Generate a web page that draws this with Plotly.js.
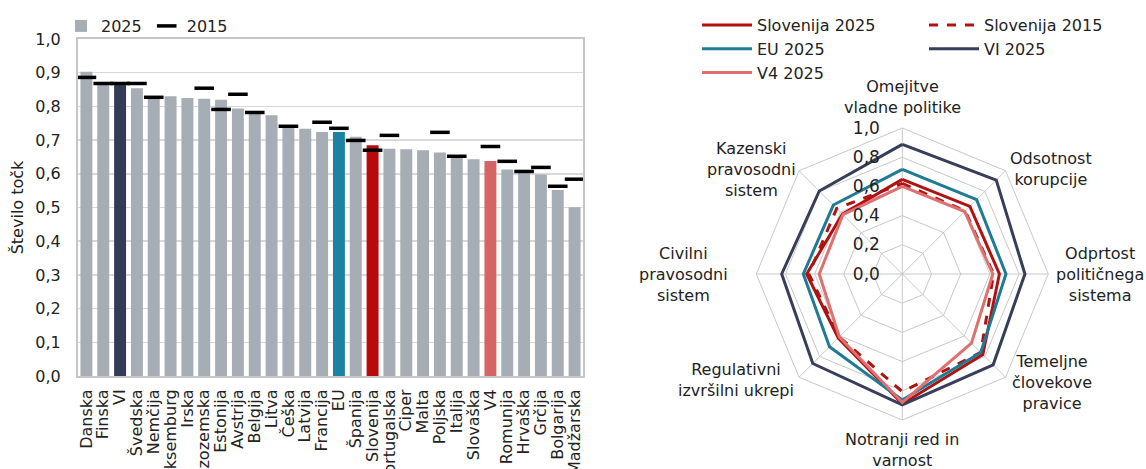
<!DOCTYPE html>
<html>
<head>
<meta charset="utf-8">
<script src="https://cdn.plot.ly/plotly-3.0.1.min.js"></script>
<style>html,body{margin:0;padding:0;background:#fff;}#chart{width:1146px;height:469px;}</style>
</head>
<body>
<div id="chart"></div>
<script>
// ---- Bar chart data ----
const countries = ['Danska','Finska','VI','Švedska','Nemčija','Luksemburg','Irska','Nizozemska','Estonija','Avstrija','Belgija','Litva','Češka','Latvija','Francija','EU','Španija','Slovenija','Portugalska','Ciper','Malta','Poljska','Italija','Slovaška','V4','Romunija','Hrvaška','Grčija','Bolgarija','Madžarska'];
const score2025 = [0.903,0.866,0.868,0.854,0.826,0.830,0.825,0.823,0.820,0.794,0.779,0.774,0.742,0.734,0.724,0.724,0.710,0.685,0.674,0.673,0.670,0.663,0.651,0.643,0.638,0.613,0.605,0.598,0.552,0.501];
const score2015 = [0.886,0.868,0.868,0.868,0.827,null,null,0.854,0.791,0.836,0.782,null,0.741,null,0.753,0.735,0.699,0.670,0.714,null,null,0.723,0.652,null,0.681,0.637,0.607,0.619,0.563,0.584];
const barLabels = ['2025','2015'];

// ---- Radar data ----
const factors = ['Omejitve<br>vladne politike','Odsotnost<br>korupcije','Odprtost<br>političnega<br>sistema','Temeljne<br>človekove<br>pravice','Notranji red in<br>varnost','Regulativni<br>izvršilni ukrepi','Civilni<br>pravosodni<br>sistem','Kazenski<br>pravosodni<br>sistem'];
const slo2025 = [0.648,0.655,0.665,0.78,0.89,0.62,0.655,0.58];
const slo2015 = [0.62,0.61,0.625,0.76,0.806,0.61,0.64,0.635];
const eu2025 = [0.717,0.72,0.71,0.76,0.863,0.705,0.678,0.668];
const vi2025 = [0.888,0.91,0.84,0.88,0.897,0.867,0.826,0.804];
const v42025 = [0.60,0.605,0.62,0.67,0.88,0.61,0.569,0.575];
const radarNames = ['Slovenija 2025','Slovenija 2015','EU 2025','VI 2025','V4 2025'];
const radialTicks = [0,0.2,0.4,0.6,0.8,1.0];

const GRAY='#a7adb4', NAVY='#333c56', TEAL='#1b82a1', RED='#b80a0a', SALMON='#d56464';
const FONT = 'DejaVu Sans, sans-serif';
const W = 1146, H = 469;

const barColors = countries.map(c => c==='VI'?NAVY : c==='EU'?TEAL : c==='Slovenija'?RED : c==='V4'?SALMON : GRAY);

const close = a => a.concat([a[0]]);
const thetaC = close(factors);

const traces = [
  {type:'bar', x:countries, y:score2025, name:barLabels[0], marker:{color:barColors}, legend:'legend3', xaxis:'x', yaxis:'y'},
  {type:'scatter', mode:'markers', x:countries, y:score2015, name:barLabels[1], marker:{symbol:'line-ew', size:14, color:'#000', line:{width:3.5, color:'#000'}}, legend:'legend3', xaxis:'x', yaxis:'y', cliponaxis:false},
  {type:'scatterpolar', r:close(slo2025), theta:thetaC, name:radarNames[0], mode:'lines', line:{color:'#b01212', width:3}, legend:'legend', subplot:'polar'},
  {type:'scatterpolar', r:close(slo2015), theta:thetaC, name:radarNames[1], mode:'lines', line:{color:'#b01212', width:3, dash:'dash'}, legend:'legend2', subplot:'polar'},
  {type:'scatterpolar', r:close(eu2025), theta:thetaC, name:radarNames[2], mode:'lines', line:{color:'#1f7b94', width:3}, legend:'legend', subplot:'polar'},
  {type:'scatterpolar', r:close(vi2025), theta:thetaC, name:radarNames[3], mode:'lines', line:{color:'#373e5a', width:3}, legend:'legend2', subplot:'polar'},
  {type:'scatterpolar', r:close(v42025), theta:thetaC, name:radarNames[4], mode:'lines', line:{color:'#df7070', width:3}, legend:'legend', subplot:'polar'}
];

// radar geometry (pixels)
const CX = 902.3, CY = 274, R = 146;

// category labels around the radar, centred text placed just outside the ring
const labelPads = [9, 3, 6, 7, 8, 4, 26, 2];
const annotations = factors.map((t, i) => {
  const ang = i * Math.PI / 4; // clockwise from top
  const sx = Math.sin(ang), sy = -Math.cos(ang);
  const rr = R + labelPads[i];
  const px = CX + sx * rr, py = CY + sy * rr;
  let xa = 'center', ya = 'middle';
  if (sx > 0.1) xa = 'left'; else if (sx < -0.1) xa = 'right';
  if (Math.abs(sx) < 0.1) ya = sy < 0 ? 'bottom' : 'top';
  return {text:t, xref:'paper', yref:'paper', x:px/W, y:1-py/H, xanchor:xa, yanchor:ya, align:'center', showarrow:false, font:{size:16, color:'#222', family:FONT}};
});

const layout = {
  width:W, height:H,
  margin:{l:0,r:0,t:0,b:0},
  paper_bgcolor:'#fff', plot_bgcolor:'#fff',
  separators:',.',
  font:{family:FONT, size:16, color:'#222'},
  bargap:0.29,
  xaxis:{domain:[78/W, 583/W], anchor:'y', range:[-0.5, countries.length-0.5], tickmode:'linear', dtick:1, tickangle:-90, showline:true, mirror:true, linecolor:'#c6c6c6', linewidth:2,
         ticks:'outside', ticklen:5, tickcolor:'rgba(0,0,0,0)', tickfont:{size:16, color:'#222'}, automargin:false, fixedrange:true},
  yaxis:{domain:[1-376/H, 1-39/H], anchor:'x', range:[0,1.0], dtick:0.1, tickformat:'.1f', showgrid:true, gridcolor:'#d9d9d9', gridwidth:1.5,
         showline:true, mirror:true, linecolor:'#c6c6c6', linewidth:2, zeroline:false, ticks:'outside', ticklen:12, tickcolor:'rgba(0,0,0,0)',
         tickfont:{size:16, color:'#222'}, title:{text:'Število točk', font:{size:16, color:'#222'}, standoff:8}, automargin:false, fixedrange:true},
  polar:{
    domain:{x:[(CX-R)/W,(CX+R)/W], y:[1-(CY+R)/H, 1-(CY-R)/H]},
    bgcolor:'#fff', gridshape:'linear',
    radialaxis:{range:[0,1.0], tickvals:radialTicks, tickformat:'.1f', angle:90, tickangle:90, side:'counterclockwise', showline:false,
                gridcolor:'#c8c8c8', gridwidth:1, ticks:'outside', ticklen:16, tickcolor:'rgba(0,0,0,0)', tickfont:{size:17, color:'#222'}, layer:'above traces'},
    angularaxis:{direction:'clockwise', rotation:90, gridcolor:'#c8c8c8', linecolor:'#c8c8c8', linewidth:1, showline:true, showticklabels:false, ticks:''}
  },
  annotations: annotations,
  legend:{x:697/W, y:1-8/H, xanchor:'left', yanchor:'top', orientation:'v', bgcolor:'rgba(0,0,0,0)', font:{size:16, color:'#222'}, itemwidth:50, tracegroupgap:0},
  legend2:{x:924/W, y:1-8/H, xanchor:'left', yanchor:'top', orientation:'v', bgcolor:'rgba(0,0,0,0)', font:{size:16, color:'#222'}, itemwidth:50},
  legend3:{x:61/W, y:1-9/H, xanchor:'left', yanchor:'top', orientation:'h', bgcolor:'rgba(0,0,0,0)', font:{size:16, color:'#222'}, itemwidth:30},
  showlegend:true
};

function stretchLegendLines(gd) {
  // lengthen the line samples of the radar legends to match the reference
  gd.querySelectorAll('.legendlines path').forEach(p => {
    const d = p.getAttribute('d') || '';
    if (/^M5,0h30$/.test(d.replace(/\s/g,''))) p.setAttribute('d', 'M6,0h49');
  });
}
Plotly.newPlot('chart', traces, layout, {displayModeBar:false, staticPlot:true}).then(gd => {
  stretchLegendLines(gd);
  setTimeout(() => stretchLegendLines(gd), 50);
});
</script>
</body>
</html>
